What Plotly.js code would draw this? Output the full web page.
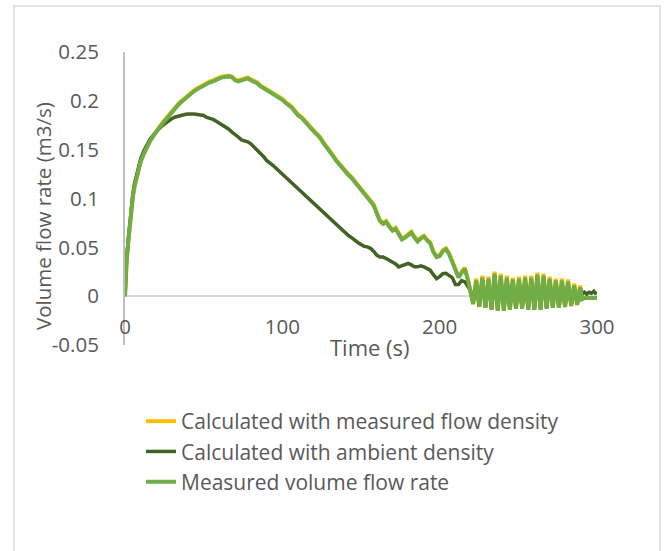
<!DOCTYPE html>
<html><head><meta charset="utf-8">
<script src="https://cdn.plot.ly/plotly-3.0.1.min.js"></script>
<style>html,body{margin:0;padding:0;background:#fff}#chart{width:667px;height:551px}</style>
</head><body><div id="chart"></div>
<script>
// Time (s)
const timeS = [
  0,0.5,1,2,3,4,5,6,8,10,12,14,16,18,20,
  22,24,26,28,30,32,34,36,38,40,42,44,46,48,50,52,54,56,58,60,
  62,64,66,68,70,72,74,76,78,80,82,84,86,88,90,92,94,96,98,100,
  102,104,106,108,110,112,114,116,118,120,122,124,126,128,130,132,134,136,138,140,
  142,144,146,148,150,152,154,156,158,160,162,164,166,168,170,172,174,176,178,180,
  182,184,186,188,190,192,194,196,198,200,202,204,206,208,210,212,214,216,218,220,
  221.3,223.2,225.2,227.1,229.1,231.0,233.0,234.9,236.9,238.8,240.8,242.7,244.6,246.5,248.5,250.4,252.4,254.3,
  256.3,258.2,260.2,262.1,264.1,266.0,268.0,269.9,271.9,273.8,275.8,277.7,279.7,281.6,283.6,285.5,287.4,289.3,
  290.5,292,293.5,295,296.5,298,299,300
];

// Calculated with measured flow density (m3/s)
const calcMeasuredDensity = [
  0,0.024,0.035,0.054,0.072,0.090,0.102,0.112,0.127,0.138,0.146,0.153,0.159,0.164,0.169,
  0.174,0.178,0.182,0.186,0.190,0.193,0.197,0.200,0.203,0.205,0.208,0.211,0.213,0.215,0.216,0.218,0.220,0.221,0.223,0.224,
  0.225,0.226,0.226,0.225,0.222,0.221,0.222,0.224,0.224,0.222,0.221,0.219,0.216,0.214,0.212,0.211,0.209,0.207,0.205,0.202,
  0.199,0.197,0.194,0.190,0.186,0.184,0.181,0.177,0.173,0.170,0.167,0.163,0.158,0.154,0.149,0.145,0.140,0.136,0.132,0.129,
  0.125,0.122,0.118,0.114,0.110,0.107,0.102,0.098,0.094,0.086,0.078,0.075,0.077,0.072,0.068,0.070,0.065,0.059,0.061,0.064,
  0.066,0.061,0.057,0.060,0.062,0.058,0.055,0.046,0.041,0.042,0.047,0.049,0.044,0.036,0.027,0.020,0.025,0.029,0.017,0.003,
  -0.008,0.018,-0.011,0.021,-0.012,0.020,-0.014,0.025,-0.015,0.023,-0.015,0.021,-0.014,0.019,-0.013,0.020,-0.013,0.021,
  -0.014,0.021,-0.014,0.024,-0.014,0.023,-0.013,0.020,-0.012,0.018,-0.012,0.018,-0.011,0.017,-0.010,0.013,-0.009,0.011,
  -0.003,-0.002,-0.002,-0.002,-0.002,-0.002,-0.002,-0.002
];

// Calculated with ambient density (m3/s)
const calcAmbientDensity = [
  0,0.025,0.037,0.057,0.075,0.093,0.105,0.115,0.130,0.141,0.149,0.156,0.161,0.165,0.169,
  0.172,0.175,0.1775,0.180,0.182,0.1835,0.1845,0.185,0.186,0.1865,0.1868,0.1865,0.186,0.1855,0.185,0.183,0.182,0.181,0.179,0.177,
  0.176,0.1735,0.171,0.168,0.166,0.163,0.160,0.159,0.158,0.156,0.153,0.150,0.147,0.143,0.139,0.137,0.134,0.131,0.128,0.125,
  0.122,0.119,0.116,0.112,0.109,0.106,0.103,0.100,0.097,0.094,0.0915,0.089,0.086,0.083,0.080,0.077,0.074,0.071,0.068,0.065,
  0.062,0.060,0.057,0.055,0.053,0.051,0.0505,0.049,0.046,0.042,0.040,0.040,0.0386,0.037,0.035,0.033,0.030,0.031,0.032,0.0335,
  0.032,0.030,0.030,0.031,0.030,0.028,0.0266,0.022,0.018,0.020,0.023,0.0235,0.021,0.019,0.012,0.012,0.016,0.0147,0.010,0.004,
  -0.006,0.014,-0.010,0.017,-0.011,0.016,-0.013,0.021,-0.014,0.019,-0.014,0.017,-0.013,0.015,-0.012,0.016,-0.012,0.017,
  -0.013,0.017,-0.013,0.020,-0.013,0.019,-0.012,0.016,-0.011,0.014,-0.011,0.014,-0.010,0.013,-0.009,0.010,-0.008,0.008,
  0.002,0.004,0.002,0.004,0.003,0.005,0.003,0.004
];

// Measured volume flow rate (m3/s)
const measuredFlow = [
  0,0.024,0.035,0.054,0.072,0.090,0.102,0.112,0.127,0.138,0.146,0.153,0.159,0.164,0.169,
  0.173,0.177,0.181,0.185,0.189,0.192,0.196,0.199,0.202,0.204,0.207,0.210,0.212,0.214,0.215,0.217,0.219,0.220,0.222,0.223,
  0.224,0.225,0.225,0.224,0.221,0.220,0.221,0.223,0.223,0.221,0.220,0.218,0.215,0.213,0.211,0.210,0.208,0.206,0.204,0.201,
  0.198,0.196,0.193,0.189,0.185,0.183,0.180,0.176,0.172,0.169,0.166,0.162,0.157,0.153,0.148,0.144,0.139,0.135,0.131,0.128,
  0.124,0.121,0.117,0.113,0.109,0.106,0.101,0.097,0.093,0.085,0.077,0.074,0.076,0.071,0.067,0.069,0.064,0.058,0.060,0.063,
  0.065,0.060,0.056,0.059,0.061,0.057,0.054,0.045,0.040,0.041,0.046,0.048,0.043,0.035,0.026,0.019,0.024,0.028,0.016,0.002,
  -0.008,0.016,-0.011,0.019,-0.012,0.018,-0.014,0.023,-0.015,0.021,-0.015,0.019,-0.014,0.017,-0.013,0.018,-0.013,0.019,
  -0.014,0.019,-0.014,0.022,-0.014,0.021,-0.013,0.018,-0.012,0.016,-0.012,0.016,-0.011,0.015,-0.010,0.011,-0.009,0.009,
  -0.003,-0.002,-0.002,-0.002,-0.002,-0.002,-0.002,-0.002
];

const seriesNames = [
  'Calculated with measured flow density',
  'Calculated with ambient density',
  'Measured volume flow rate'
];
const seriesColors = ['#FFC000', '#416324', '#70AD47'];
const yTickVals = [-0.05, 0, 0.05, 0.1, 0.15, 0.2, 0.25];
const yTickText = ['-0.05', '0', '0.05', '0.1', '0.15', '0.2', '0.25'];
const xTickVals = [0, 100, 200, 300];
const xTickText = ['0', '100', '200', '300'];
const xTitle = 'Time (s)';
const yTitle = 'Volume flow rate (m3/s)';

const seriesData = [calcMeasuredDensity, calcAmbientDensity, measuredFlow];
const widths = [4, 3.5, 4];
const traces = seriesData.map((ys, i) => ({
  type: 'scatter', mode: 'lines', x: timeS, y: ys, name: seriesNames[i],
  legendgroup: 'g' + i,
  line: {color: seriesColors[i], width: widths[i]},
  hoverinfo: 'skip'
}));

// plot area in pixels: x 125..597, y 52..345
const W = 667, H = 551, L = 125, R = 70, T = 52, B = 206;
const pw = W - L - R, ph = H - T - B;
const px = v => (v - L) / pw;
const py = v => (H - B - v) / ph;

const layout = {
  width: W, height: H,
  margin: {l: L, r: R, t: T, b: B, pad: 0},
  paper_bgcolor: '#ffffff', plot_bgcolor: '#ffffff',
  font: {family: '"Open Sans", sans-serif', color: '#595959', size: 20.5},
  showlegend: true,
  xaxis: {
    range: [0, 300], tickvals: xTickVals, ticktext: xTickText,
    showgrid: false, zeroline: false, showline: false, ticks: '',
    anchor: 'free', position: py(312),
    tickfont: {size: 20.5, color: '#595959'}
  },
  yaxis: {
    range: [-0.05, 0.25], tickvals: yTickVals, ticktext: yTickText,
    showgrid: false, zeroline: true, zerolinecolor: '#D9D9D9', zerolinewidth: 2,
    showline: true, linecolor: '#BFBFBF', linewidth: 2, ticks: '',
    ticklabelstandoff: 20, layer: 'below traces',
    tickfont: {size: 20.5, color: '#595959'}
  },
  legend: {
    x: px(141), y: py(401), xanchor: 'left', yanchor: 'top',
    traceorder: 'grouped', tracegroupgap: 0,
    bgcolor: 'rgba(0,0,0,0)', font: {size: 21, color: '#595959'}
  },
  annotations: [
    {text: xTitle, xref: 'paper', yref: 'paper', x: px(370), y: py(347),
     xanchor: 'center', yanchor: 'middle', showarrow: false,
     font: {size: 22, color: '#595959'}},
    {text: yTitle, xref: 'paper', yref: 'paper', x: px(43), y: py(216),
     xanchor: 'center', yanchor: 'middle', showarrow: false, textangle: -90,
     font: {size: 20.5, color: '#595959'}}
  ],
  shapes: [
    {type: 'rect', xref: 'paper', yref: 'paper', x0: px(14), x1: px(660), y0: py(570), y1: py(6),
     line: {color: '#D9D9D9', width: 1.5}, fillcolor: 'rgba(0,0,0,0)', layer: 'below'}
  ]
};

Plotly.newPlot('chart', traces, layout, {displayModeBar: false, staticPlot: true});
</script>
</body></html>
